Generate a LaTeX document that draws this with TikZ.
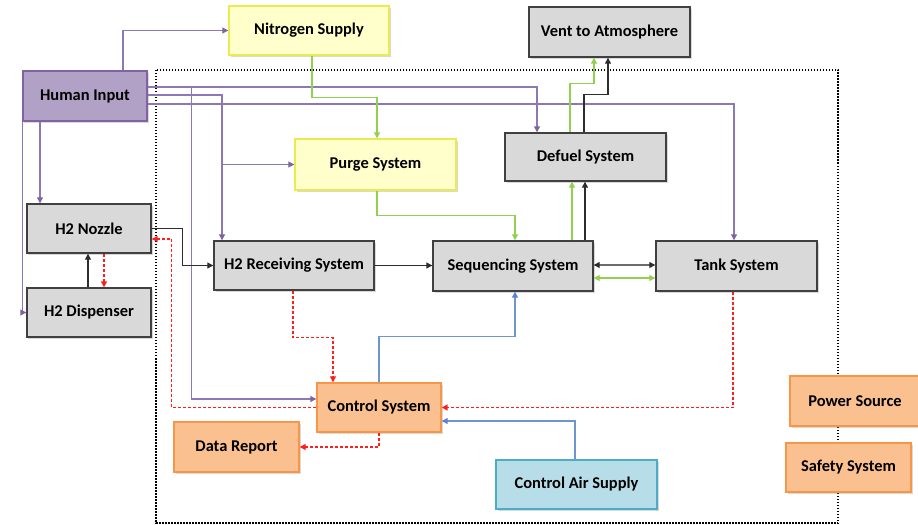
\documentclass[tikz,border=0pt]{standalone}
\usepackage{fontspec}
\setmainfont{Carlito}
\usetikzlibrary{arrows.meta,shadows,calc}
\definecolor{grayfill}{RGB}{217,217,217}
\definecolor{graydraw}{RGB}{64,64,64}
\definecolor{purpfill}{RGB}{178,161,199}
\definecolor{purpdraw}{RGB}{128,100,162}
\definecolor{yelfill}{RGB}{255,255,204}
\definecolor{yeldraw}{RGB}{235,235,80}
\definecolor{orfill}{RGB}{250,192,144}
\definecolor{ordraw}{RGB}{247,150,70}
\definecolor{bluefill}{RGB}{183,222,232}
\definecolor{bluedraw}{RGB}{75,172,198}
\definecolor{pline}{RGB}{140,120,180}
\definecolor{gline}{RGB}{146,208,80}
\definecolor{bline}{RGB}{110,150,205}
\definecolor{kline}{RGB}{45,45,45}
\definecolor{rline}{RGB}{255,30,30}
\tikzset{
  box/.style={draw, line width=1.4bp, font=\bfseries\fontsize{16.5}{18}\selectfont, inner sep=0pt,
    drop shadow={shadow xshift=1.5bp, shadow yshift=-2bp, opacity=0.3}},
  graybox/.style={box, fill=grayfill, draw=graydraw},
  purpbox/.style={box, fill=purpfill, draw=purpdraw},
  yelbox/.style={box, fill=yelfill, draw=yeldraw},
  orbox/.style={box, fill=orfill, draw=ordraw},
  bluebox/.style={box, fill=bluefill, draw=bluedraw},
  tip/.style={-{Triangle[length=6bp,width=6bp]}},
  parrow/.style={line width=1.2bp, color=pline, -{Triangle[length=6bp,width=6bp,color=purpdraw]}},
  garrow/.style={line width=1.2bp, color=gline, tip},
  barrow/.style={line width=1.2bp, color=bline, -{Triangle[length=6bp,width=6bp,color=bline!85!blue]}},
  karrow/.style={line width=1.2bp, color=kline, tip},
  rarrow/.style={line width=1.5bp, color=rline, tip, dash pattern=on 3bp off 2bp},
}
\begin{document}
\begin{tikzpicture}[x=1bp,y=-1bp]
\useasboundingbox (0,0) rectangle (918,525);
% dotted frame
\draw[line width=2.2bp, dash pattern=on 1.5bp off 1.5bp] (156,70) rectangle (838,523);
% nodes
\node[yelbox, minimum width=160bp, minimum height=49bp] (nit) at (309,30.5) {Nitrogen Supply};
\node[graybox, minimum width=161bp, minimum height=50bp] (vent) at (609.5,32) {Vent to Atmosphere};
\node[purpbox, minimum width=124bp, minimum height=50bp] (hi) at (85,96) {Human Input};
\node[yelbox, minimum width=161bp, minimum height=51bp] (purge) at (375.5,164.5) {Purge System};
\node[graybox, minimum width=161bp, minimum height=48bp] (defuel) at (585.5,157) {Defuel System};
\node[graybox, minimum width=124bp, minimum height=49bp] (noz) at (89,228.5) {H2 Nozzle};
\node[graybox, minimum width=124bp, minimum height=49bp] (disp) at (89,312.5) {H2 Dispenser};
\node[graybox, minimum width=160bp, minimum height=49bp] (recv) at (294,265.5) {H2 Receiving System};
\node[graybox, minimum width=160bp, minimum height=50bp] (seq) at (513,266) {Sequencing System};
\node[graybox, minimum width=161bp, minimum height=50bp] (tank) at (736.5,266) {Tank System};
\node[orbox, minimum width=124bp, minimum height=49bp] (ctrl) at (379,407.5) {Control System};
\node[orbox, minimum width=125bp, minimum height=50bp] (data) at (236.5,447) {Data Report};
\node[bluebox, minimum width=161bp, minimum height=49bp] (cas) at (576.5,484.5) {Control Air Supply};
\node[orbox, minimum width=130bp, minimum height=50bp] (power) at (855,401) {Power Source};
\node[orbox, minimum width=125bp, minimum height=49bp] (safety) at (848.5,467.5) {Safety System};
% purple connectors
\draw[parrow] ([xshift=38bp]hi.north) |- (nit.west);
\draw[parrow] ([xshift=-45bp]hi.south) -- ([xshift=-45bp]hi.south |- noz.north);
\draw[parrow] (hi.south west) |- (disp.west);
\draw[parrow] ([yshift=9bp]hi.east) -| ([xshift=-48.5bp]defuel.north);
\draw[parrow] ([yshift=9bp]hi.east) -| ([xshift=-125bp,yshift=8.5bp]ctrl.west) -- ([yshift=8.5bp]ctrl.west);
\draw[parrow] ([yshift=1bp]hi.east) -| ([xshift=-72bp]recv.north);
\draw[parrow] ([xshift=-72bp]recv.north |- purge.west) -- (purge.west);
\draw[parrow] ([yshift=-8bp]hi.east) -| ([xshift=-2.5bp]tank.north);
% green connectors
\draw[garrow] ([xshift=3bp]nit.south) -- ++(0,42) -| ([xshift=1.5bp]purge.north);
\draw[garrow] ([xshift=1.5bp]purge.south) -- ++(0,25) -| ([xshift=2bp]seq.north);
\draw[garrow] ([xshift=59bp]seq.north) -- ([xshift=59bp]seq.north |- defuel.south);
\draw[garrow] ([xshift=-15.5bp]defuel.north) -- ++(0,-49) -| ([xshift=-15.5bp]vent.south);
\draw[garrow, {Triangle[length=6bp,width=6bp]}-{Triangle[length=6bp,width=6bp]}] ([yshift=-12bp]seq.east) -- ([yshift=-12bp]tank.west);
% black connectors
\draw[karrow] ([xshift=72bp]seq.north) -- ([xshift=72bp]seq.north |- defuel.south);
\draw[karrow] ([xshift=-1.5bp]defuel.north) -- ++(0,-38) -| ([xshift=-1.5bp]vent.south);
\draw[karrow, draw=kline!70, {Triangle[length=6bp,width=6bp,color=kline]}-{Triangle[length=6bp,width=6bp,color=kline]}] ([yshift=1bp]seq.east) -- ([yshift=1bp]tank.west);
\draw[karrow] (recv.east) -- (recv.east -| seq.west);
\draw[karrow] (noz.east) -- ++(31,0) |- (recv.west);
\draw[karrow] ([xshift=-1bp]disp.north) -- ([xshift=-1bp]noz.south);
% red dashed
\draw[rarrow] ([xshift=15bp]noz.south) -- ([xshift=15bp]disp.north);
\draw[rarrow] (ctrl.west) -- ([xshift=20bp]noz.east |- ctrl.west) |- ([yshift=-10.5bp]noz.east);
\draw[rarrow] ([xshift=-1bp]recv.south) -- ++(0,47) -| ([xshift=-46bp]ctrl.north);
\draw[rarrow] (ctrl.south) |- (data.east);
\draw[rarrow] ([xshift=-3.5bp]tank.south) |- (ctrl.east);
% blue
\draw[barrow] ([xshift=-1.5bp]cas.north) |- ([yshift=-13.5bp]ctrl.east);
\draw[barrow] (ctrl.north) -- ++(0,-46) -| ([xshift=2bp]seq.south);
\end{tikzpicture}
\end{document}
